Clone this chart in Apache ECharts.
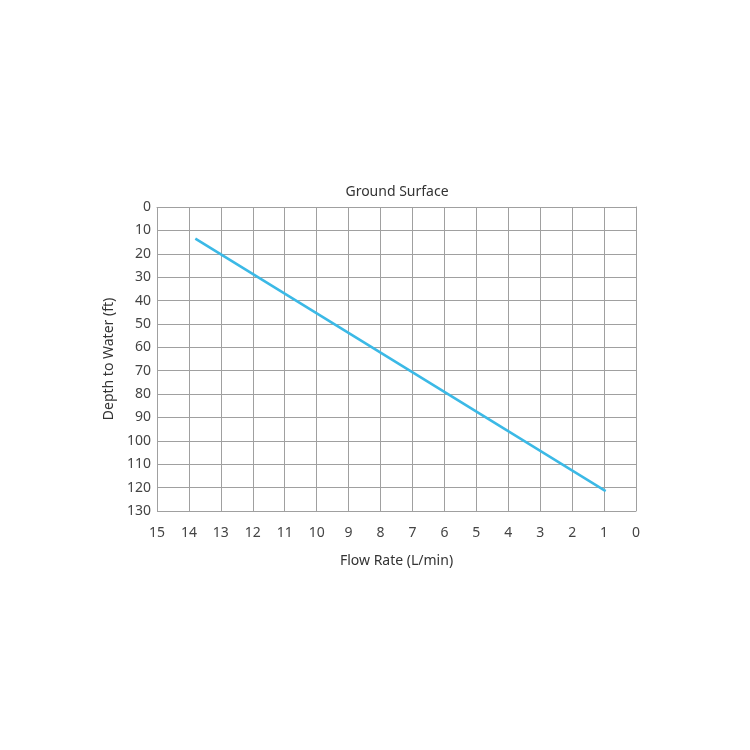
<!DOCTYPE html>
<html><head><meta charset="utf-8">
<script src="https://cdn.jsdelivr.net/npm/echarts@6/dist/echarts.min.js"></script>
<style>html,body{margin:0;padding:0;background:#fff}#c{width:750px;height:750px}</style>
</head><body><div id="c"></div>
<script>
var flowRate = [13.8, 0.95];
var depth = [13.5, 121.5];
var titleText = 'Ground Surface';
var xName = 'Flow Rate (L/min)';
var yName = 'Depth to Water (ft)';

var chart = echarts.init(document.getElementById('c'), null, {renderer: 'canvas'});
var font = 'Noto Sans';
chart.setOption({
  animation: false,
  backgroundColor: '#fff',
  title: {text: titleText, left: 392, top: 180, textAlign: 'center',
    textStyle: {fontFamily: font, fontSize: 14, fontWeight: 'normal', color: '#333'}},
  grid: {left: 157, right: 114, top: 207, bottom: 239},
  xAxis: {type: 'value', min: 0, max: 15, interval: 1, inverse: true,
    name: xName, nameLocation: 'middle', nameGap: 43,
    nameTextStyle: {fontFamily: font, fontSize: 14, color: '#333'},
    axisLine: {show: true, lineStyle: {color: '#a0a0a0', width: 1}},
    axisTick: {show: false},
    axisLabel: {fontFamily: font, fontSize: 14, color: '#444', margin: 15},
    splitLine: {show: true, lineStyle: {color: '#a0a0a0', width: 1}}},
  yAxis: {type: 'value', min: 0, max: 130, interval: 10, inverse: true,
    name: yName, nameLocation: 'middle', nameGap: 37, nameRotate: 90,
    nameTextStyle: {fontFamily: font, fontSize: 14, color: '#333'},
    axisLine: {show: true, lineStyle: {color: '#a0a0a0', width: 1}},
    axisTick: {show: false},
    axisLabel: {fontFamily: font, fontSize: 14, color: '#444', margin: 6},
    splitLine: {show: true, lineStyle: {color: '#a0a0a0', width: 1}}},
  series: [{type: 'line', data: flowRate.map(function (f, i) { return [f, depth[i]]; }),
    symbol: 'none', lineStyle: {color: '#3bb9e6', width: 2.5}}]
});
</script></body></html>
